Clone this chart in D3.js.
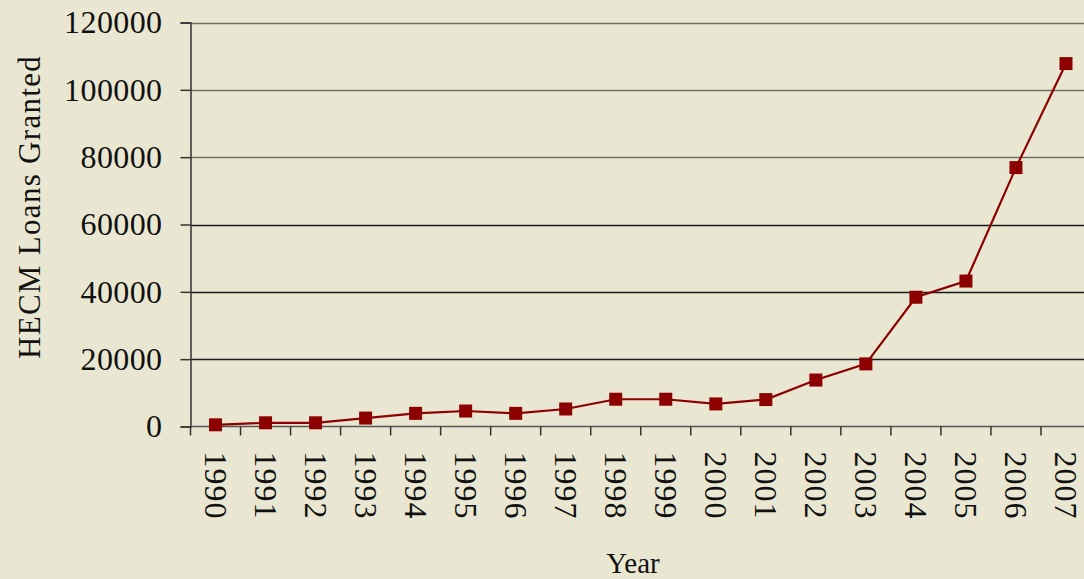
<!DOCTYPE html>
<html>
<head>
<meta charset="utf-8">
<script src="https://cdn.jsdelivr.net/npm/d3@7"></script>
<style>
  html, body { margin: 0; padding: 0; background: #e9e7d2; overflow: hidden; }
  svg { display: block; font-family: "Liberation Serif", "DejaVu Serif", serif; }
</style>
</head>
<body>
<svg id="chart"></svg>
<script>
const years = ["1990", "1991", "1992", "1993", "1994", "1995", "1996", "1997", "1998",
               "1999", "2000", "2001", "2002", "2003", "2004", "2005", "2006", "2007"];
const loans = [500, 1100, 1100, 2500, 3900, 4600, 3900, 5200, 8100,
               8100, 6700, 8000, 13800, 18600, 38400, 43200, 76900, 107800];
const yTicks = [0, 20000, 40000, 60000, 80000, 100000, 120000];

const width = 1084, height = 579;
const margin = { top: 22.5, right: -7, bottom: 152.5, left: 190.5 };

const svg = d3.select("#chart")
    .attr("width", width)
    .attr("height", height);

svg.append("rect")
    .attr("width", width)
    .attr("height", height)
    .attr("fill", "#e9e7d2");

const x = d3.scaleBand()
    .domain(years)
    .range([margin.left, width - margin.right])
    .paddingInner(0)
    .paddingOuter(0);

const y = d3.scaleLinear()
    .domain([0, 120000])
    .range([height - margin.bottom, margin.top]);

// gridlines
svg.append("g")
    .selectAll("line")
    .data(yTicks.slice(1))
    .join("line")
    .attr("x1", margin.left)
    .attr("x2", width)
    .attr("y1", d => Math.round(y(d)) + 0.5)
    .attr("y2", d => Math.round(y(d)) + 0.5)
    .attr("stroke", (d, i) => i >= 3 ? "#6f6f6a" : "#1a1a1a")
    .attr("stroke-width", 1.4);

// y axis
const yAxis = svg.append("g")
    .attr("transform", `translate(${margin.left}, 0)`)
    .call(d3.axisLeft(y).tickValues(yTicks).tickFormat(d3.format("d")).tickSize(10).tickPadding(18));
yAxis.select(".domain").attr("stroke", "#333").attr("stroke-width", 1.5);
yAxis.selectAll(".tick line").attr("stroke", "#333").attr("stroke-width", 1.5);
yAxis.selectAll("text")
    .attr("fill", "#111")
    .style("font-size", "32px")
    .style("letter-spacing", "0.4px")
    .style("font-family", "Liberation Serif, serif");

// x axis with ticks between categories
const xAxisG = svg.append("g")
    .attr("transform", `translate(0, ${y(0)})`);
xAxisG.append("line")
    .attr("x1", margin.left)
    .attr("x2", width)
    .attr("y1", 0)
    .attr("y2", 0)
    .attr("stroke", "#555")
    .attr("stroke-width", 1.5);
xAxisG.selectAll(".xtick")
    .data(years)
    .join("line")
    .attr("class", "xtick")
    .attr("x1", d => x(d))
    .attr("x2", d => x(d))
    .attr("y1", 0)
    .attr("y2", 9)
    .attr("stroke", "#333")
    .attr("stroke-width", 1.5);
xAxisG.selectAll(".xlabel")
    .data(years)
    .join("text")
    .attr("class", "xlabel")
    .attr("transform", d => `translate(${x(d) + x.bandwidth() / 2 - 11}, 25) rotate(90)`)
    .attr("text-anchor", "start")
    .attr("fill", "#111")
    .style("font-size", "32px")
    .style("letter-spacing", "1px")
    .text(d => d);

// line and markers
const line = d3.line()
    .x((d, i) => x(years[i]) + x.bandwidth() / 2)
    .y(d => y(d));

svg.append("path")
    .datum(loans)
    .attr("d", line)
    .attr("fill", "none")
    .attr("stroke", "#8c0000")
    .attr("stroke-width", 2.2);

const ms = 13;
svg.append("g")
    .selectAll("rect")
    .data(loans)
    .join("rect")
    .attr("x", (d, i) => x(years[i]) + x.bandwidth() / 2 - ms / 2)
    .attr("y", d => y(d) - ms / 2)
    .attr("width", ms)
    .attr("height", ms)
    .attr("fill", "#8c0000");

// axis titles
svg.append("text")
    .attr("x", 633)
    .attr("y", 573)
    .attr("text-anchor", "middle")
    .attr("fill", "#111")
    .style("font-size", "29px")
    .text("Year");

svg.append("text")
    .attr("transform", "translate(40, 207) rotate(-90)")
    .attr("text-anchor", "middle")
    .attr("fill", "#111")
    .style("font-size", "31px")
    .style("letter-spacing", "1.3px")
    .text("HECM Loans Granted");
</script>
</body>
</html>
